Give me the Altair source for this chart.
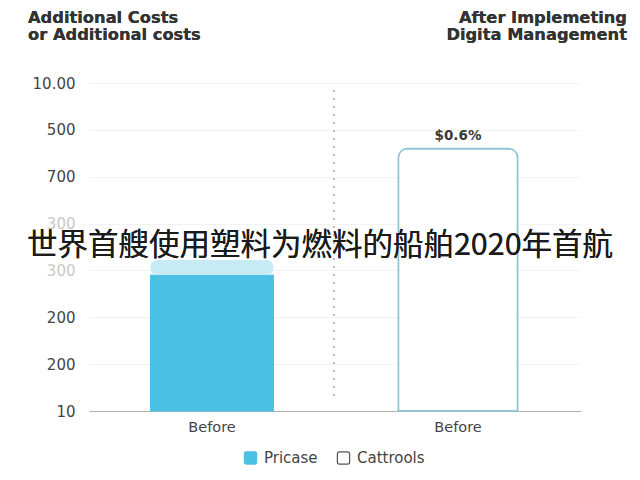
import altair as alt
import pandas as pd

# ---- data ----
categories = ["A", "B"]
category_labels = ["Before", "Before"]
series = ["Pricase", "Cattrools"]
values = [2.9, 5.6]
cap_low = [2.9, None]
cap_high = [3.22, None]
bar_labels = ["", "$0.6%"]
tick_values = [0, 1, 2, 3, 4, 5, 6, 7]
tick_labels = ["10", "200", "200", "300", "300", "700", "500", "10.00"]
faint_ticks = [3, 4]
title_left = ["Additional Costs", "or Additional costs"]
title_right = ["After Implemeting", "Digita Management"]
overlay_text = "世界首艘使用塑料为燃料的船舶2020年首航"

df = pd.DataFrame({
    "cat": categories,
    "series": series,
    "value": values,
    "cap_low": cap_low,
    "cap_high": cap_high,
    "label": bar_labels,
})

FONT = "DejaVu Sans"
ROUND_SQUARE = ("M -0.65 -1 L 0.65 -1 Q 1 -1 1 -0.65 L 1 0.65 Q 1 1 0.65 1 "
                "L -0.65 1 Q -1 1 -1 0.65 L -1 -0.65 Q -1 -1 -0.65 -1 Z")

ylabel_expr = "[" + ",".join("'%s'" % t for t in tick_labels) + "][datum.value]"
xlabel_expr = "{" + ",".join("'%s':'%s'" % (c, l) for c, l in zip(categories, category_labels)) + "}[datum.value]"
faint_test = "indexof([" + ",".join(str(v) for v in faint_ticks) + "], datum.value) >= 0"

x_enc = alt.X(
    "cat:N",
    scale=alt.Scale(domain=categories, paddingInner=0, paddingOuter=0),
    axis=alt.Axis(
        title=None, labelExpr=xlabel_expr, labelAngle=0, ticks=False,
        domainColor="#b0b0b0", domainWidth=1.2, labelPadding=9,
        labelFontSize=14.5, labelColor="#444", labelFont=FONT, grid=False,
    ),
)
y_scale = alt.Scale(domain=[0, 7], nice=False, zero=True)
y_axis = alt.Axis(
    title=None, values=tick_values, labelExpr=ylabel_expr, domain=False, ticks=False,
    grid=True, gridColor="#f2f2f2", labelPadding=14, labelFontSize=15, labelFont=FONT,
    labelColor={"condition": {"test": faint_test, "value": "#c8c8c8"}, "value": "#444"},
)

legend = alt.Legend(
    title=None, orient="none", legendX=154, legendY=367, direction="horizontal",
    symbolType=ROUND_SQUARE, symbolSize=150, symbolStrokeWidth=1.2,
    labelFontSize=15, labelColor="#444", labelFont=FONT, columnPadding=16, labelOffset=6,
)
fill_enc = alt.Fill("series:N", scale=alt.Scale(domain=series, range=["#4cc1e6", "#ffffff"]), legend=legend)
stroke_enc = alt.Stroke("series:N", scale=alt.Scale(domain=series, range=["#4cc1e6", "#555555"]), legend=legend)

base = alt.Chart(df)

dark_bar = base.transform_filter(alt.datum.series == series[0]).mark_bar(
    width=alt.RelativeBandSize(0.5), strokeWidth=1
).encode(x=x_enc, y=alt.Y("value:Q", scale=y_scale, axis=y_axis), fill=fill_enc, stroke=stroke_enc)

cap_bar = base.transform_filter("isValid(datum.cap_high)").mark_bar(
    width=alt.RelativeBandSize(0.5), color="#c7ebf6", cornerRadiusEnd=7,
).encode(x=x_enc, y=alt.Y("cap_high:Q", scale=y_scale), y2="cap_low:Q")

outline_bar = base.transform_filter(alt.datum.series == series[1]).mark_bar(
    width=alt.RelativeBandSize(0.485), strokeWidth=1.6, cornerRadiusEnd=9,
).encode(x=x_enc, y=alt.Y("value:Q", scale=y_scale), fill=fill_enc,
         stroke=alt.value("#8ec3d3"))

value_text = base.transform_filter("datum.label != ''").mark_text(
    dy=-13, fontSize=13.5, fontWeight="bold", color="#3a3a3a", font=FONT
).encode(x=x_enc, y=alt.Y("value:Q", scale=y_scale), text="label:N")

divider = base.mark_rule(color="#b5b5b5", strokeDash=[2, 6], strokeWidth=1.3).encode(
    x=alt.value(245), y=alt.value(7), y2=alt.value(318)
)

left_title = base.mark_text(
    text=title_left, align="left", baseline="top", fontSize=16.3, fontWeight="bold",
    color="#333", font=FONT, lineHeight=17,
).encode(x=alt.value(-61), y=alt.value(-73))

right_title = base.mark_text(
    text=title_right, align="right", baseline="top", fontSize=16.3, fontWeight="bold",
    color="#333", font=FONT, lineHeight=17,
).encode(x=alt.value(538), y=alt.value(-73))

overlay = base.mark_text(
    text=overlay_text, align="center", baseline="middle", fontSize=30.5,
    font="Noto Sans CJK SC", color="#1b1b1b",
).encode(x=alt.value(231), y=alt.value(163))

chart = alt.layer(
    dark_bar, cap_bar, outline_bar, value_text, divider, left_title, right_title, overlay
).properties(
    width=492, height=328,
    autosize=alt.AutoSizeParams(type="none"),
    padding={"left": 81, "top": 75, "right": 50, "bottom": 55},
    background="white",
).configure_view(stroke=None)

chart.save("out.html", embed_options={"renderer": "svg", "actions": False})
